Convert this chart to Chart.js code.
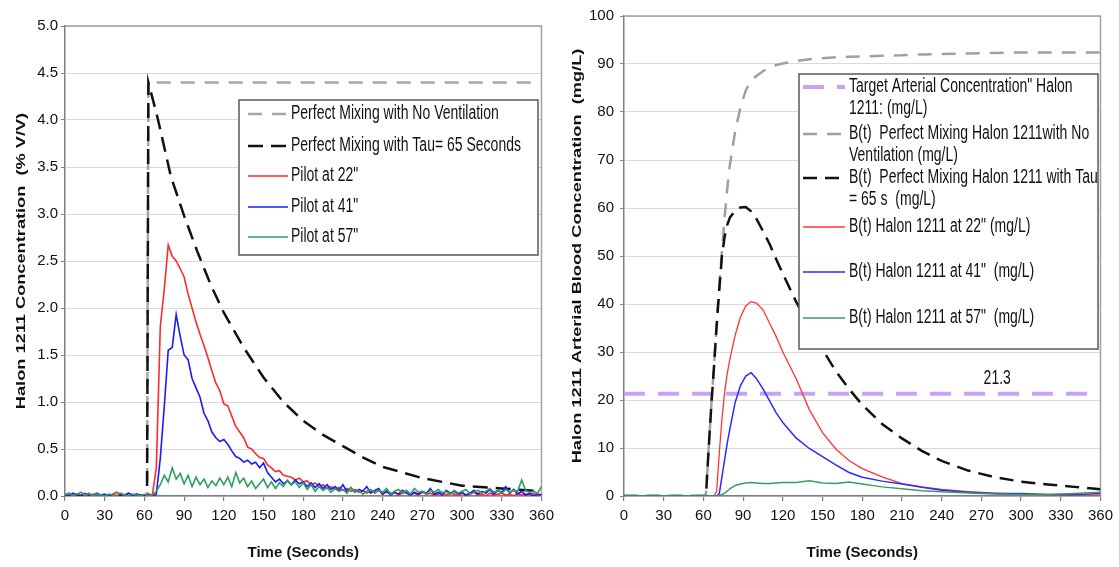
<!DOCTYPE html>
<html>
<head>
<meta charset="utf-8">
<title>Halon 1211 concentration</title>
<script src="https://cdn.jsdelivr.net/npm/chart.js@4.4.1/dist/chart.umd.min.js"></script>
<style>
  html, body { margin: 0; padding: 0; background: #fff; }
  #page { position: relative; width: 1119px; height: 567px; overflow: hidden; }
  #leftChart { position: absolute; left: 0; top: 0; }
  #rightChart { position: absolute; left: 560px; top: 0; }
</style>
</head>
<body>
<div id="page">
  <canvas id="leftChart" width="560" height="567"></canvas>
  <canvas id="rightChart" width="559" height="567"></canvas>
</div>
<script>
'use strict';

// ---- axis ticks ----
const timeTicks = [0, 30, 60, 90, 120, 150, 180, 210, 240, 270, 300, 330, 360];
const roomTicks = [0, 0.5, 1, 1.5, 2, 2.5, 3, 3.5, 4, 4.5, 5];
const bloodTicks = [0, 10, 20, 30, 40, 50, 60, 70, 80, 90, 100];

// ---- left chart: room concentration (% V/V) ----
const roomLegend = [
    ['Perfect Mixing with No Ventilation'],
    ['Perfect Mixing with Tau= 65 Seconds'],
    ['Pilot at 22"'],
    ['Pilot at 41"'],
    ['Pilot at 57"']
];

const noVentTime = [0, 62, 63, 360];
const noVentConc = [0, 0, 4.4, 4.4];

const tauTime = [0, 62, 63, 70, 80, 90, 100, 110, 120, 135, 150, 165, 180, 195, 210, 225, 240, 255, 270, 285, 300, 330, 360];
const tauConc = [0, 0, 4.4, 4.02, 3.4, 2.98, 2.6, 2.25, 1.95, 1.58, 1.26, 1.0, 0.8, 0.65, 0.53, 0.41, 0.31, 0.25, 0.19, 0.15, 0.11, 0.08, 0.05];

const pilotTime = [
    0, 3, 6, 9, 12, 15, 18, 21, 24, 27,
    30, 33, 36, 39, 42, 45, 48, 51, 54, 57,
    60, 63, 66, 69, 72, 75, 78, 81, 84, 87,
    90, 93, 96, 99, 102, 105, 108, 111, 114, 117,
    120, 123, 126, 129, 132, 135, 138, 141, 144, 147,
    150, 153, 156, 159, 162, 165, 168, 171, 174, 177,
    180, 183, 186, 189, 192, 195, 198, 201, 204, 207,
    210, 213, 216, 219, 222, 225, 228, 231, 234, 237,
    240, 243, 246, 249, 252, 255, 258, 261, 264, 267,
    270, 273, 276, 279, 282, 285, 288, 291, 294, 297,
    300, 303, 306, 309, 312, 315, 318, 321, 324, 327,
    330, 333, 336, 339, 342, 345, 348, 351, 354, 357,
    360
];
const pilot22 = [
    0.01, 0.03, 0.00, 0.02, 0.01, 0.03, 0.00, 0.02, 0.01, 0.00,
    0.01, 0.00, 0.02, 0.04, 0.02, 0.00, 0.03, 0.01, 0.02, 0.00,
    0.01, 0.02, 0.01, 0.30, 1.80, 2.20, 2.67, 2.55, 2.50, 2.42,
    2.33, 2.15, 2.00, 1.85, 1.72, 1.60, 1.47, 1.33, 1.20, 1.12,
    0.98, 0.96, 0.85, 0.74, 0.68, 0.62, 0.52, 0.50, 0.45, 0.41,
    0.40, 0.33, 0.30, 0.26, 0.27, 0.22, 0.21, 0.20, 0.17, 0.19,
    0.15, 0.16, 0.12, 0.14, 0.10, 0.12, 0.08, 0.10, 0.07, 0.09,
    0.06, 0.08, 0.05, 0.07, 0.04, 0.06, 0.03, 0.05, 0.04, 0.06,
    0.02, 0.05, 0.03, 0.04, 0.01, 0.03, 0.04, 0.02, 0.03, 0.01,
    0.04, 0.02, 0.03, 0.01, 0.02, 0.04, 0.01, 0.03, 0.02, 0.00,
    0.03, 0.01, 0.02, 0.04, 0.01, 0.02, 0.00, 0.03, 0.01, 0.02,
    0.03, 0.01, 0.02, 0.00, 0.03, 0.01, 0.02, 0.01, 0.03, 0.00,
    0.02
];
const pilot41 = [
    0.02, 0.00, 0.03, 0.01, 0.00, 0.02, 0.01, 0.00, 0.03, 0.01,
    0.02, 0.00, 0.01, 0.00, 0.02, 0.01, 0.03, 0.00, 0.02, 0.01,
    0.00, 0.01, 0.00, 0.02, 0.40, 0.95, 1.55, 1.58, 1.93, 1.70,
    1.50, 1.45, 1.25, 1.15, 1.05, 0.88, 0.80, 0.68, 0.62, 0.58,
    0.60, 0.55, 0.48, 0.42, 0.40, 0.36, 0.38, 0.34, 0.36, 0.30,
    0.35, 0.25, 0.20, 0.15, 0.18, 0.13, 0.16, 0.12, 0.17, 0.13,
    0.15, 0.10, 0.14, 0.09, 0.13, 0.08, 0.12, 0.07, 0.10, 0.06,
    0.12, 0.05, 0.09, 0.04, 0.07, 0.05, 0.10, 0.03, 0.06, 0.08,
    0.02, 0.05, 0.01, 0.04, 0.02, 0.06, 0.03, 0.01, 0.04, 0.02,
    0.05, 0.03, 0.08, 0.02, 0.04, 0.01, 0.06, 0.03, 0.05, 0.02,
    0.04, 0.01, 0.03, 0.06, 0.02, 0.05, 0.03, 0.07, 0.02, 0.06,
    0.04, 0.10, 0.03, 0.07, 0.02, 0.05, 0.01, 0.03, 0.00, 0.02,
    0.01
];
const pilot57 = [
    0.01, 0.03, 0.00, 0.02, 0.04, 0.01, 0.03, 0.00, 0.02, 0.01,
    0.00, 0.02, 0.01, 0.00, 0.03, 0.01, 0.00, 0.02, 0.01, 0.00,
    0.02, 0.00, 0.01, 0.05, 0.12, 0.22, 0.15, 0.30, 0.18, 0.24,
    0.13, 0.22, 0.10, 0.20, 0.12, 0.18, 0.09, 0.16, 0.11, 0.19,
    0.12, 0.20, 0.10, 0.25, 0.14, 0.19, 0.10, 0.16, 0.08, 0.13,
    0.18, 0.09, 0.15, 0.08, 0.14, 0.10, 0.17, 0.12, 0.15, 0.09,
    0.14, 0.07, 0.12, 0.05, 0.10, 0.06, 0.09, 0.04, 0.08, 0.05,
    0.07, 0.03, 0.09, 0.04, 0.06, 0.02, 0.05, 0.07, 0.03, 0.06,
    0.04, 0.08, 0.02, 0.05, 0.07, 0.03, 0.06, 0.02, 0.08, 0.04,
    0.05, 0.02, 0.06, 0.04, 0.07, 0.03, 0.05, 0.02, 0.06, 0.03,
    0.05, 0.07, 0.02, 0.04, 0.06, 0.03, 0.05, 0.08, 0.04, 0.06,
    0.03, 0.07, 0.04, 0.06, 0.05, 0.17, 0.06, 0.04, 0.05, 0.03,
    0.10
];

// ---- right chart: arterial blood concentration (mg/L) ----
const bloodLegend = [
    ['Target Arterial Concentration" Halon', '1211: (mg/L)'],
    ['B(t)  Perfect Mixing Halon 1211with No', 'Ventilation (mg/L)'],
    ['B(t)  Perfect Mixing Halon 1211 with Tau', '= 65 s  (mg/L)'],
    ['B(t) Halon 1211 at 22" (mg/L)'],
    ['B(t) Halon 1211 at 41"  (mg/L)'],
    ['B(t) Halon 1211 at 57"  (mg/L)']
];

const targetTime = [0, 360];
const targetBlood = [21.3, 21.3];
const targetLabelTime = 282;

const bloodTime = [0, 30, 60, 62, 64, 66, 68, 70, 72, 74, 76, 78, 80, 84, 88, 92, 96, 100, 105, 110, 115, 120, 130, 140, 150, 160, 170, 180, 195, 210, 225, 240, 260, 280, 300, 320, 340, 360];
const bloodNoVent = [0, 0, 0, 0.5, 10, 19, 27, 36, 44, 51, 58, 64, 69, 76, 81, 84.5, 86.5, 87.5, 88.5, 89.3, 89.8, 90.1, 90.6, 91, 91.2, 91.4, 91.5, 91.6, 91.7, 91.8, 92, 92.1, 92.2, 92.3, 92.4, 92.4, 92.4, 92.4];
const bloodTau = [0, 0, 0, 0.5, 10, 19, 27, 35.5, 43, 50, 54, 56.5, 58, 59.5, 60.1, 60.2, 59.3, 57.8, 55.2, 52.5, 49.3, 46.3, 40.5, 35.5, 30.5, 26, 22.3, 19, 15, 12, 9.4, 7.3, 5.3, 3.9, 3.0, 2.4, 1.9, 1.4];
const blood22 = [0, 0, 0, 0, 0, 0, 0, 1, 9, 16, 21.5, 25.5, 28.5, 33.5, 37.3, 39.6, 40.5, 40.2, 38.8, 36, 33.2, 30, 24.5, 18, 13.2, 9.8, 7.4, 5.7, 4.0, 2.6, 1.9, 1.4, 0.9, 0.6, 0.4, 0.3, 0.2, 0.2];
const blood41 = [0, 0, 0, 0, 0, 0, 0, 0, 0.5, 4, 7.5, 11, 14, 19.5, 23, 25, 25.7, 24.5, 22.3, 19.8, 17.3, 15.3, 12.1, 9.9, 8.2, 6.5, 4.9, 3.9, 3.1, 2.5, 1.8, 1.2, 0.8, 0.5, 0.5, 0.3, 0.3, 0.5];
const blood57 = [0, 0, 0, 0, 0, 0, 0, 0, 0.1, 0.3, 0.6, 1.0, 1.5, 2.2, 2.5, 2.7, 2.8, 2.7, 2.6, 2.6, 2.7, 2.8, 2.8, 3.2, 2.7, 2.6, 2.9, 2.5, 1.9, 1.5, 1.1, 0.9, 0.6, 0.4, 0.3, 0.3, 0.5, 0.8];

// ---- drawing ----
const FONT = "'Liberation Sans', Arial, Helvetica, sans-serif";
const TEXT = '#111';
const AXIS = '#808080';
const STRETCH = 1.4;

function xy(times, values) {
    return times.map((t, i) => ({ x: t, y: values[i] }));
}

function line(label, times, values, color, width, dash, order) {
    return {
        label,
        data: xy(times, values),
        borderColor: color,
        borderWidth: width,
        borderDash: dash,
        fill: false,
        pointRadius: 0,
        tension: 0,
        order
    };
}

function stretchedText(ctx, text, x, y, sx, sy) {
    ctx.save();
    ctx.translate(x, y);
    ctx.scale(sx, sy);
    ctx.fillText(text, 0, 0);
    ctx.restore();
}

const framePlugin = {
    id: 'frame',
    beforeDatasetsDraw(chart) {
        const { ctx, chartArea: a } = chart;
        ctx.save();
        ctx.strokeStyle = '#a0a0a0';
        ctx.lineWidth = 1.5;
        ctx.beginPath();
        ctx.moveTo(a.left, a.top);
        ctx.lineTo(a.right, a.top);
        ctx.lineTo(a.right, a.bottom);
        ctx.stroke();
        ctx.restore();
    }
};

const yTitlePlugin = {
    id: 'yTitle',
    afterDraw(chart, args, opts) {
        const { ctx, chartArea: a } = chart;
        ctx.save();
        ctx.font = `bold ${opts.size}px ${FONT}`;
        ctx.fillStyle = TEXT;
        ctx.textAlign = 'center';
        ctx.textBaseline = 'middle';
        ctx.translate(opts.x, (a.top + a.bottom) / 2);
        ctx.rotate(-Math.PI / 2);
        ctx.scale(STRETCH, 1);
        ctx.fillText(opts.text, 0, 0);
        ctx.restore();
    }
};

const legendPlugin = {
    id: 'insetLegend',
    afterDatasetsDraw(chart, args, opts) {
        const { ctx } = chart;
        const b = opts.box;
        ctx.save();
        ctx.fillStyle = '#fff';
        ctx.fillRect(b.left, b.top, b.width, b.height);
        ctx.strokeStyle = '#5a5a5a';
        ctx.lineWidth = 1.5;
        ctx.strokeRect(b.left, b.top, b.width, b.height);
        ctx.font = `${opts.size}px ${FONT}`;
        ctx.textAlign = 'left';
        ctx.textBaseline = 'middle';
        opts.rows.forEach((rowY, i) => {
            const ds = chart.data.datasets[i];
            const y = b.top + rowY;
            ctx.save();
            ctx.strokeStyle = ds.borderColor;
            ctx.lineWidth = Math.max(ds.borderWidth, 1.6);
            ctx.setLineDash(ds.borderDash || []);
            ctx.beginPath();
            ctx.moveTo(b.left + opts.lineFrom, y);
            ctx.lineTo(b.left + opts.lineTo, y);
            ctx.stroke();
            ctx.restore();
            ctx.fillStyle = TEXT;
            opts.labels[i].forEach((text, j) => {
                stretchedText(ctx, text, b.left + opts.textX, y + j * opts.lineGap, 1, STRETCH);
            });
        });
        ctx.restore();
    }
};

const targetLabelPlugin = {
    id: 'targetLabel',
    afterDatasetsDraw(chart, args, opts) {
        if (!opts.text) return;
        const { ctx, scales } = chart;
        ctx.save();
        ctx.font = `${opts.size}px ${FONT}`;
        ctx.fillStyle = TEXT;
        ctx.textAlign = 'center';
        ctx.textBaseline = 'middle';
        stretchedText(ctx, opts.text, scales.x.getPixelForValue(opts.x),
            scales.y.getPixelForValue(opts.y) - opts.dy, 1, STRETCH);
        ctx.restore();
    }
};

function makeChart(id, setup) {
    return new Chart(document.getElementById(id), {
        type: 'line',
        data: { datasets: setup.datasets },
        options: {
            responsive: false,
            animation: false,
            events: [],
            layout: { padding: setup.padding },
            scales: {
                x: {
                    type: 'linear',
                    min: 0,
                    max: 360,
                    afterBuildTicks: (s) => { s.ticks = timeTicks.map((v) => ({ value: v })); },
                    afterFit: (s) => { s.height = 71; },
                    ticks: { color: TEXT, font: { family: FONT, size: 15 }, padding: 6, maxRotation: 0, autoSkip: false },
                    grid: { drawOnChartArea: false, drawTicks: true, tickLength: 5, tickColor: AXIS, lineWidth: 1.2 },
                    border: { color: AXIS, width: 1.5 },
                    title: {
                        display: true,
                        text: 'Time (Seconds)',
                        color: TEXT,
                        font: { family: FONT, size: 15, weight: 'bold' },
                        padding: { top: 0, bottom: 5 }
                    }
                },
                y: {
                    type: 'linear',
                    min: setup.yMin,
                    max: setup.yMax,
                    afterBuildTicks: (s) => { s.ticks = setup.yTicks.map((v) => ({ value: v })); },
                    afterFit: (s) => { s.width = setup.yWidth; },
                    ticks: {
                        color: TEXT,
                        font: { family: FONT, size: 15 },
                        padding: setup.yPad,
                        callback: setup.yFormat
                    },
                    grid: { color: '#d9d9d9', lineWidth: 1, tickLength: 4, tickColor: AXIS },
                    border: { color: AXIS, width: 1.5 }
                }
            },
            plugins: {
                legend: { display: false },
                tooltip: { enabled: false },
                yTitle: setup.yTitle,
                insetLegend: setup.legend,
                targetLabel: setup.label || {}
            }
        },
        plugins: [framePlugin, legendPlugin, yTitlePlugin, targetLabelPlugin]
    });
}

makeChart('leftChart', {
    datasets: [
        line(roomLegend[0].join(' '), noVentTime, noVentConc, '#a6a6a6', 2.5, [14, 10], 5),
        line(roomLegend[1].join(' '), tauTime, tauConc, '#111111', 2.5, [15, 8], 4),
        line(roomLegend[2].join(' '), pilotTime, pilot22, '#ff2a2a', 1.6, [], 3),
        line(roomLegend[3].join(' '), pilotTime, pilot41, '#1a1aff', 1.6, [], 2),
        line(roomLegend[4].join(' '), pilotTime, pilot57, '#2f9e5f', 1.6, [], 1)
    ],
    padding: { top: 26, right: 15, left: 0, bottom: 0 },
    yMin: 0,
    yMax: 5,
    yTicks: roomTicks,
    yWidth: 65,
    yPad: 3,
    yFormat: (v) => v.toFixed(1),
    yTitle: { text: 'Halon 1211 Concentration  (% V/V)', x: 21, size: 13 },
    legend: {
        box: { left: 239, top: 100, width: 299, height: 155 },
        rows: [14, 46, 76, 107, 137],
        labels: roomLegend,
        lineFrom: 9,
        lineTo: 49,
        textX: 52,
        lineGap: 21,
        size: 14
    }
});

makeChart('rightChart', {
    datasets: [
        line(bloodLegend[0].join(' '), targetTime, targetBlood, '#c9a2f7', 4, [21, 13], 6),
        line(bloodLegend[1].join(' '), bloodTime, bloodNoVent, '#a0a0a0', 2.5, [14, 10], 5),
        line(bloodLegend[2].join(' '), bloodTime, bloodTau, '#111111', 2.5, [14, 8], 4),
        line(bloodLegend[3].join(' '), bloodTime, blood22, '#ff3333', 1.3, [], 3),
        line(bloodLegend[4].join(' '), bloodTime, blood41, '#2b2bff', 1.5, [], 2),
        line(bloodLegend[5].join(' '), bloodTime, blood57, '#3c9c64', 1.5, [], 1)
    ],
    padding: { top: 16, right: 14, left: 0, bottom: 0 },
    yMin: 0,
    yMax: 100,
    yTicks: bloodTicks,
    yWidth: 64,
    yPad: 6,
    yFormat: (v) => String(v),
    yTitle: { text: 'Halon 1211 Arterial Blood Concentration  (mg/L)', x: 17, size: 13 },
    legend: {
        box: { left: 239, top: 74, width: 299, height: 275 },
        rows: [13, 60, 104, 153, 198, 244],
        labels: bloodLegend,
        lineFrom: 4,
        lineTo: 46,
        textX: 50,
        lineGap: 21.5,
        size: 14
    },
    label: { text: String(targetBlood[0]), x: targetLabelTime, y: targetBlood[0], dy: 15, size: 14 }
});
</script>
</body>
</html>
